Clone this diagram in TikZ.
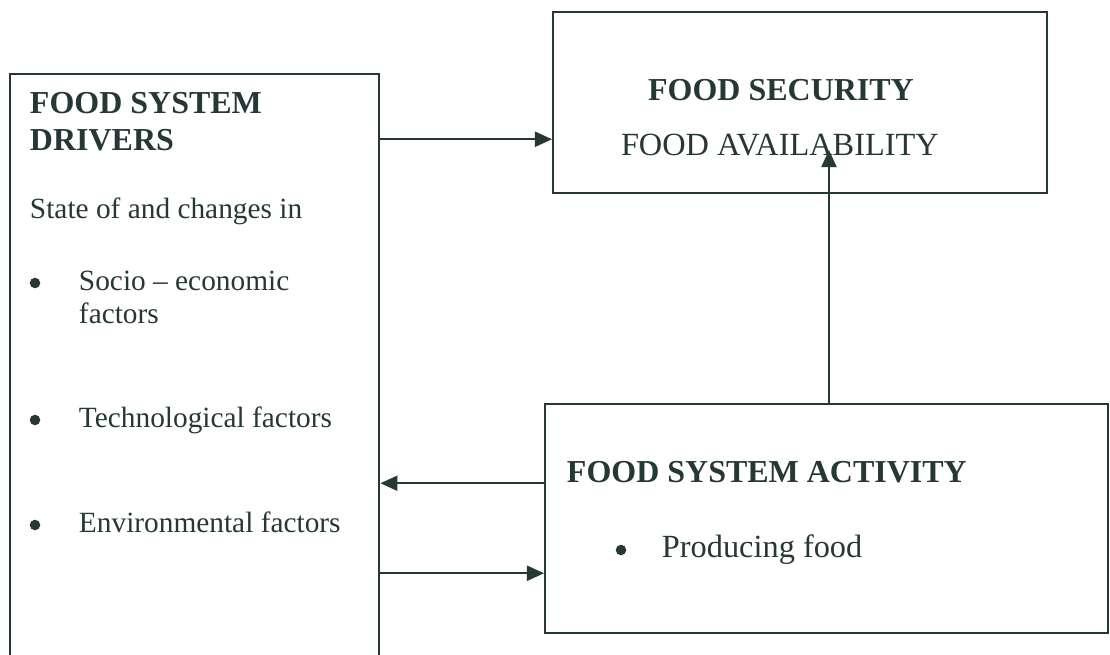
\documentclass[tikz,border=0pt]{standalone}
\usepackage{fontspec}
\setmainfont{Liberation Serif}
\usetikzlibrary{arrows.meta,positioning}
\definecolor{ink}{RGB}{38,56,54}

\begin{document}
\begin{tikzpicture}[
  box/.style={draw=ink,line width=0.7pt,inner sep=0pt,anchor=north west},
  head/.style={anchor=base west,inner sep=0pt,outer sep=0pt,text=ink,
    font=\fontsize{9.1}{11}\selectfont\bfseries},
  body/.style={anchor=base west,inner sep=0pt,outer sep=0pt,text=ink,
    font=\fontsize{8.35}{10}\selectfont},
  big/.style={body,font=\fontsize{9.2}{11}\selectfont},
  dot/.style={circle,fill=ink,inner sep=0pt,minimum size=3pt},
  arrow/.style={-{Triangle[length=1.7mm,width=1.5mm]},line width=0.6pt,draw=ink}
]
  \useasboundingbox (0,0) rectangle (11.10,-6.54);
  \clip (0,0) rectangle (11.10,-6.54);

  % boxes
  \node[box,minimum width=3.69cm,minimum height=6.4cm] (drivers) at (0.09,-0.73) {};
  \node[box,minimum width=4.94cm,minimum height=1.81cm] (security) at (5.52,-0.11) {};
  \node[box,minimum width=5.63cm,minimum height=2.29cm] (activity) at (5.44,-4.03) {};

  % food security
  \node[head,anchor=base] (sectitle) at (7.81,-1.00) {FOOD SECURITY};
  \node[big] (avail) at (6.21,-1.55) {FOOD AVAILABILITY};

  % drivers
  \node[head] (drvtitle) at (0.30,-1.13) {FOOD SYSTEM};
  \node[head] (drvtitle2) at (0.30,-1.50) {DRIVERS};
  \node[body] (state) at (0.30,-2.18) {State of and changes in};
  \node[dot] (dotsocio) at (0.35,-2.83) {};
  \node[body] (socio) at (0.79,-2.90) {Socio -- economic};
  \node[body] (socio2) at (0.79,-3.23) {factors};
  \node[dot] (dottech) at (0.35,-4.20) {};
  \node[body] (tech) at (0.79,-4.27) {Technological factors};
  \node[dot] (dotenv) at (0.35,-5.25) {};
  \node[body] (env) at (0.79,-5.32) {Environmental factors};

  % activity
  \node[head] (acttitle) at (5.67,-4.82) {FOOD SYSTEM ACTIVITY};
  \node[dot] (dotprod) at (6.21,-5.50) {};
  \node[big] (prod) at (6.62,-5.57) {Producing food};

  % connector ends
  \coordinate (secin) at ([yshift=-3.65mm]security.west);
  \coordinate (drvin) at ([yshift=3.55mm]activity.west -| drivers.east);
  \coordinate (actin) at ([yshift=-5.45mm]activity.west);
  \coordinate (availtip) at (8.29,-1.50);

  \draw[arrow] (drivers.east |- secin) -- (secin);
  \draw[arrow] (activity.west |- drvin) -- (drvin);
  \draw[arrow] (drivers.east |- actin) -- (actin);
  \draw[arrow] (activity.north -| availtip) -- (availtip);
\end{tikzpicture}
\end{document}
